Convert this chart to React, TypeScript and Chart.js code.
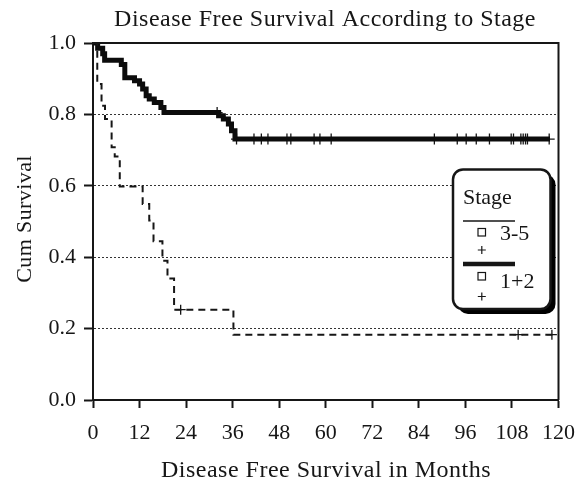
import React, { useEffect, useRef } from 'react';
import { Chart, registerables } from 'chart.js';

Chart.register(...registerables);

// ---- data ----
const xTickValues = [0, 12, 24, 36, 48, 60, 72, 84, 96, 108, 120];
const yTickValues = [0, 0.2, 0.4, 0.6, 0.8, 1.0];

const stage35Months = [0, 1.1, 2.2, 3.1, 4.8, 5.6, 6.9, 12.8, 14.5, 15.6, 17.9, 19.2, 20.9, 36.2, 118.6];
const stage35Survival = [1.0, 0.885, 0.824, 0.787, 0.708, 0.682, 0.598, 0.549, 0.503, 0.445, 0.39, 0.34, 0.253, 0.183, 0.183];
const stage35CensorMonths = [22.6, 109.6, 118.3];
const stage35CensorSurvival = [0.253, 0.183, 0.183];

const stage12Months = [0, 1.2, 2.5, 3.0, 7.3, 8.2, 10.7, 12.0, 12.8, 13.7, 14.5, 15.8, 17.5, 18.3, 32.4, 33.6, 34.9, 35.7, 36.6, 117.8];
const stage12Survival = [1.0, 0.985, 0.97, 0.952, 0.94, 0.903, 0.894, 0.885, 0.871, 0.852, 0.843, 0.833, 0.819, 0.805, 0.796, 0.787, 0.773, 0.754, 0.731, 0.731];
const stage12CensorMonths = [32.0, 37.0, 41.5, 43.4, 45.1, 50.0, 51.0, 57.0, 58.5, 61.4, 88.0, 93.9, 96.2, 98.8, 102.2, 107.8, 108.4, 110.3, 110.9, 111.5, 112.0, 117.6];
const stage12CensorSurvival = [0.805, 0.731, 0.731, 0.731, 0.731, 0.731, 0.731, 0.731, 0.731, 0.731, 0.731, 0.731, 0.731, 0.731, 0.731, 0.731, 0.731, 0.731, 0.731, 0.731, 0.731, 0.731];

const chartTitle = 'Disease Free Survival According to Stage';
const xAxisTitle = 'Disease Free Survival in Months';
const yAxisTitle = 'Cum Survival';
const legendTitle = 'Stage';
const legendLabels = ['3-5', '1+2'];

const FONT = '"Liberation Serif", "Times New Roman", serif';
const INK = '#161616';

const toPoints = (xs: number[], ys: number[]) => xs.map((x, i) => ({ x, y: ys[i] }));

const decorPlugin = {
  id: 'decor',
  afterDraw(chart: any) {
    const { ctx, chartArea: a } = chart;
    ctx.save();
    // frame: top and right borders
    ctx.strokeStyle = INK;
    ctx.lineWidth = 2;
    ctx.beginPath();
    ctx.moveTo(a.left, a.top);
    ctx.lineTo(a.right, a.top);
    ctx.lineTo(a.right, a.bottom);
    ctx.stroke();

    // titles
    ctx.fillStyle = INK;
    ctx.textBaseline = 'alphabetic';
    ctx.textAlign = 'center';
    ctx.font = `24px ${FONT}`;
    try { (ctx as any).letterSpacing = '0.5px'; } catch (e) {}
    ctx.fillText(chartTitle, 325, 26);
    ctx.fillText(xAxisTitle, 326, 477);
    ctx.font = `22px ${FONT}`;
    try { (ctx as any).letterSpacing = '0.4px'; } catch (e) {}
    ctx.save();
    ctx.translate(31, 219);
    ctx.rotate(-Math.PI / 2);
    ctx.fillText(yAxisTitle, 0, 0);
    ctx.restore();
    try { (ctx as any).letterSpacing = '0px'; } catch (e) {}

    // legend box with shadow
    const bx = 453, by = 169.5, bw = 97.5, bh = 139.5, r = 10;
    ctx.fillStyle = '#000';
    ctx.beginPath();
    ctx.roundRect(bx + 5, by + 5, bw, bh, r);
    ctx.fill();
    ctx.fillStyle = '#fff';
    ctx.beginPath();
    ctx.roundRect(bx, by, bw, bh, r);
    ctx.fill();
    ctx.strokeStyle = INK;
    ctx.lineWidth = 2.5;
    ctx.stroke();

    ctx.fillStyle = INK;
    ctx.textAlign = 'left';
    ctx.font = `22px ${FONT}`;
    ctx.fillText(legendTitle, 463, 204);

    const drawPlus = (cx: number, cy: number) => {
      ctx.lineWidth = 1.2;
      ctx.beginPath();
      ctx.moveTo(cx - 4, cy); ctx.lineTo(cx + 4, cy);
      ctx.moveTo(cx, cy - 4); ctx.lineTo(cx, cy + 4);
      ctx.stroke();
    };
    // entry 1: thin line
    ctx.lineWidth = 1.5;
    ctx.beginPath(); ctx.moveTo(463, 221); ctx.lineTo(515, 221); ctx.stroke();
    ctx.lineWidth = 1.2;
    ctx.strokeRect(478, 228.5, 7.5, 7.5);
    ctx.fillText(legendLabels[0], 500, 240);
    drawPlus(481.8, 250);
    // entry 2: thick line
    ctx.lineWidth = 4.5;
    ctx.beginPath(); ctx.moveTo(463, 264); ctx.lineTo(515, 264); ctx.stroke();
    ctx.lineWidth = 1.2;
    ctx.strokeRect(478, 272.5, 7.5, 7.5);
    ctx.fillText(legendLabels[1], 500, 288);
    drawPlus(481.8, 296.5);
    ctx.restore();
  },
};

export default function App() {
  const ref = useRef<HTMLCanvasElement | null>(null);
  useEffect(() => {
    if (!ref.current) return;
    const chart = new Chart(ref.current, {
      type: 'line',
      data: {
        datasets: [
          {
            label: '3-5',
            data: toPoints(stage35Months, stage35Survival),
            stepped: 'before',
            borderColor: INK,
            borderWidth: 2,
            borderDash: [7, 5],
            pointRadius: 0,
            fill: false,
          },
          {
            label: '1+2',
            data: toPoints(stage12Months, stage12Survival),
            stepped: 'before',
            borderColor: '#0c0c0c',
            borderWidth: 5,
            borderJoinStyle: 'miter',
            borderCapStyle: 'butt',
            pointRadius: 0,
            fill: false,
          },
          {
            label: '3-5 censored',
            data: toPoints(stage35CensorMonths, stage35CensorSurvival),
            showLine: false,
            pointStyle: 'cross',
            pointRadius: 5,
            pointBorderWidth: 1.3,
            borderColor: INK,
            backgroundColor: INK,
          },
          {
            label: '1+2 censored',
            data: toPoints(stage12CensorMonths, stage12CensorSurvival),
            showLine: false,
            pointStyle: 'cross',
            pointRadius: 5.5,
            pointBorderWidth: 1.3,
            borderColor: INK,
            backgroundColor: INK,
          },
        ] as any,
      },
      options: {
        animation: false,
        responsive: false,
        devicePixelRatio: 1,
        events: [],
        layout: { padding: { top: 43, right: 24, left: 0, bottom: 0 } },
        plugins: {
          legend: { display: false },
          title: { display: false },
          tooltip: { enabled: false },
        },
        scales: {
          x: {
            type: 'linear',
            min: 0,
            max: 120,
            afterFit: (s: any) => { s.height = 84; },
            afterBuildTicks: (s: any) => { s.ticks = xTickValues.map((v) => ({ value: v })); },
            ticks: {
              color: INK,
              font: { family: FONT, size: 22 },
              padding: 12,
              maxRotation: 0,
              autoSkip: false,
            },
            grid: {
              drawOnChartArea: false,
              tickLength: 8,
              tickWidth: 2,
              tickColor: INK,
            },
            border: { display: true, color: INK, width: 2 },
          },
          y: {
            type: 'linear',
            min: 0,
            max: 1,
            afterFit: (s: any) => { s.width = 93; },
            afterBuildTicks: (s: any) => { s.ticks = yTickValues.map((v) => ({ value: v })); },
            ticks: {
              color: INK,
              font: { family: FONT, size: 22 },
              padding: 8,
              callback: (v: any) => Number(v).toFixed(1),
            },
            grid: {
              color: (c: any) => (c.tick && (c.tick.value === 0 || c.tick.value === 1) ? 'rgba(0,0,0,0)' : '#333'),
              lineWidth: 1,
              tickLength: 9,
              tickWidth: 2,
              tickColor: INK,
              tickBorderDash: [],
            },
            border: { display: true, color: INK, width: 2, dash: [2, 2] },
          },
        },
      } as any,
      plugins: [decorPlugin],
    });
    return () => chart.destroy();
  }, []);
  return (
    <div style={{ position: 'fixed', left: 0, top: 0, width: 587, height: 484, background: '#fff' }}>
      <canvas ref={ref} width={587} height={484} style={{ display: 'block', width: 587, height: 484 }} />
    </div>
  );
}
